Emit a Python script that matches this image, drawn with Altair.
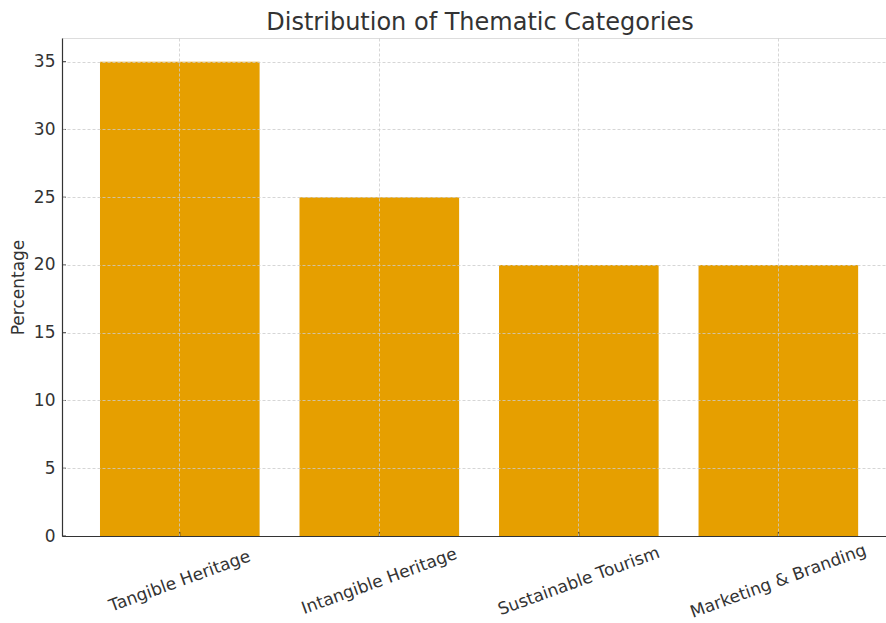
import altair as alt
import pandas as pd

categories = ["Tangible Heritage", "Intangible Heritage", "Sustainable Tourism", "Marketing & Branding"]
percentages = [35, 25, 20, 20]
y_ticks = [0, 5, 10, 15, 20, 25, 30, 35]

df = pd.DataFrame({"category": categories, "pct": percentages})
ticks_df = pd.DataFrame({"v": y_ticks})

FONT = "DejaVu Sans"
xscale = alt.Scale(domain=categories, paddingInner=0.2, paddingOuter=0.165, align=0.577)
yscale = alt.Scale(domain=[0, 36.75], nice=False)

grid_dash = [3, 2]

bars = alt.Chart(df).mark_bar(color="#E69F00").encode(
    x=alt.X("category:N", sort=categories, scale=xscale,
            axis=alt.Axis(title=None, labelAngle=340, labelAlign="center", labelBaseline="middle",
                          labelPadding=45, tickSize=0, labelFont=FONT, labelFontSize=17,
                          labelColor="#333333", grid=True, gridDash=grid_dash, gridColor="#cccccc",
                          gridWidth=0.8, bandPosition=0.5, domainColor="#333333", domainWidth=1.2,
                          zindex=1, labelOverlap=False, labelLimit=400)),
    y=alt.Y("pct:Q", scale=yscale,
            axis=alt.Axis(title="Percentage", values=y_ticks, tickSize=0, labelPadding=7,
                          labelFont=FONT, labelFontSize=17, labelColor="#333333",
                          titleFont=FONT, titleFontSize=17, titleFontWeight="normal",
                          titleColor="#333333", titlePadding=6,
                          grid=True, gridDash=grid_dash, gridColor="#cccccc", gridWidth=0.8,
                          domainColor="#333333", domainWidth=1.2, zindex=1)),
)

xticks = alt.Chart(df).mark_rule(color="#333333", strokeWidth=1).encode(
    x=alt.X("category:N", sort=categories, scale=xscale),
    y=alt.value(498), y2=alt.value(494),
)

yticks = alt.Chart(ticks_df).mark_rule(color="#333333", strokeWidth=1).encode(
    y=alt.Y("v:Q", scale=yscale),
    x=alt.value(0), x2=alt.value(4),
)

chart = alt.layer(bars, xticks, yticks).properties(
    width=824, height=498,
    title=alt.TitleParams("Distribution of Thematic Categories", font=FONT, fontSize=24,
                          fontWeight="normal", color="#333333", anchor="middle", offset=3, dx=6),
    autosize=alt.AutoSizeParams(type="none"),
    padding={"left": 62, "top": 38, "right": 0, "bottom": 87},
).configure_view(stroke=None).configure(background="white")

chart.save("out.html", embed_options={"renderer": "svg", "actions": False})
